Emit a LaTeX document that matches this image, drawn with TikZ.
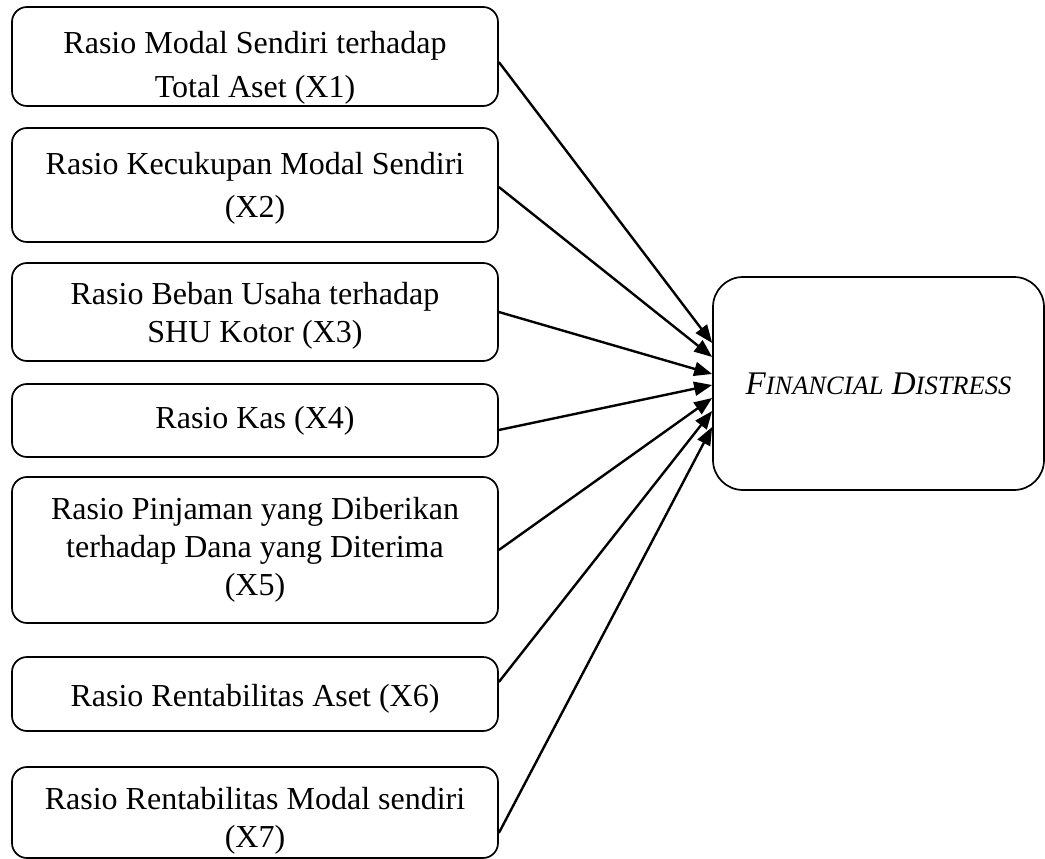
\documentclass[tikz,border=0pt]{standalone}
\usepackage{fontspec}
\setmainfont{Liberation Serif}
\usetikzlibrary{arrows.meta}
\newcommand{\sct}[1]{{\fontsize{26.5}{30}\selectfont #1}}
\newcommand{\upr}[1]{\rule{0pt}{#1}}
\begin{document}
\begin{tikzpicture}[x=1pt,y=1pt,
  lbox/.style={draw, line width=1.7pt, rounded corners=15pt, minimum width=486pt,
    align=center, inner sep=0pt, font=\fontsize{32}{38}\selectfont},
  rbox/.style={draw, line width=1.7pt, rounded corners=30pt, minimum width=331pt,
    minimum height=213pt, align=center, inner sep=0pt},
  arr/.style={line width=2.4pt, -{Triangle[length=18pt,width=14pt]}}]
\useasboundingbox (0,0) rectangle (1045,-859);
\node[lbox, minimum height=99pt] (b1) at (255,-56.5) {\upr{44pt}Rasio Modal Sendiri terhadap\\[6pt]Total Aset (X1)};
\node[lbox, minimum height=114pt] (b2) at (255,-185) {\upr{28pt}Rasio Kecukupan Modal Sendiri\\[5pt](X2)};
\node[lbox, minimum height=98pt] (b3) at (255,-312) {\upr{30pt}Rasio Beban Usaha terhadap\\SHU Kotor (X3)};
\node[lbox, minimum height=73pt] (b4) at (255,-420.5) {Rasio Kas (X4)};
\node[lbox, minimum height=146pt] (b5) at (255,-550) {Rasio Pinjaman yang Diberikan\\terhadap Dana yang Diterima\\(X5)};
\node[lbox, minimum height=74pt] (b6) at (255,-694) {\upr{32pt}Rasio Rentabilitas Aset (X6)};
\node[lbox, minimum height=91pt] (b7) at (255,-812.5) {\upr{38pt}Rasio Rentabilitas Modal sendiri\\(X7)};
\node[rbox, font=\fontsize{33}{38}\selectfont\itshape] (fd) at (878.5,-383.5) {F\sct{INANCIAL} D\sct{ISTRESS}};
\draw[arr] ([yshift=-5.5pt]b1.east) -- ([yshift=40.5pt]fd.west);
\draw[arr] ([yshift=-2pt]b2.east) -- ([yshift=26.5pt]fd.west);
\draw[arr] (b3.east) -- ([yshift=9.5pt]fd.west);
\draw[arr] ([yshift=-9.5pt]b4.east) -- ([yshift=-1.5pt]fd.west);
\draw[arr] (b5.east) -- ([yshift=-14.5pt]fd.west);
\draw[arr] ([yshift=12pt]b6.east) -- ([yshift=-27.5pt]fd.west);
\draw[arr] ([yshift=-20.5pt]b7.east) -- ([yshift=-43.5pt]fd.west);
\end{tikzpicture}
\end{document}
